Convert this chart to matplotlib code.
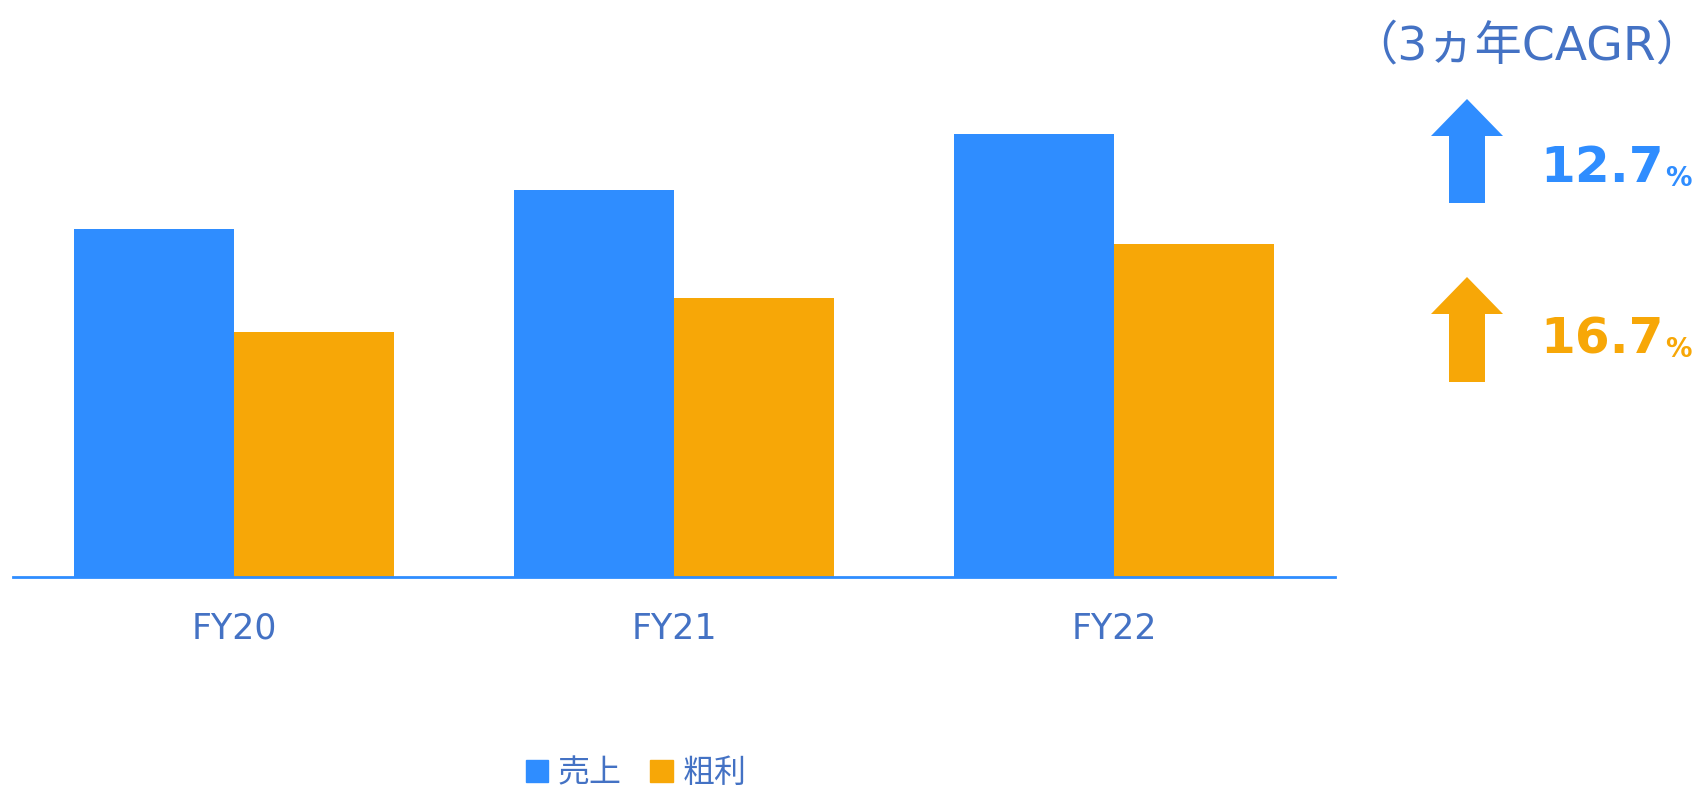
import matplotlib.pyplot as plt
from matplotlib.patches import Patch, Polygon

plt.rcParams['font.family'] = ['DejaVu Sans', 'Noto Sans CJK JP']

# data (index FY20 sales = 100)
years = ['FY20', 'FY21', 'FY22']
sales = [100, 111.2, 127.3]
gross = [70.4, 80.1, 95.7]
series_names = ['売上', '粗利']
cagr = ['12.7', '16.7']

blue = '#2F8DFF'
orange = '#F7A707'
text_col = '#4472C4'

fig = plt.figure(figsize=(17.02, 7.86), dpi=100)

# main bar chart
ax = fig.add_axes([13 / 1702, 209 / 786, 1322 / 1702, 500 / 786])
w = 0.364
x = range(len(years))
ax.bar([i - w / 2 for i in x], sales, width=w, color=blue, zorder=2)
ax.bar([i + w / 2 for i in x], gross, width=w, color=orange, zorder=2)
ax.set_xlim(-0.502, 2.502)
ax.set_ylim(0, 143.7)
ax.set_xticks(list(x))
ax.set_xticklabels(years, color=text_col, fontsize=25)
ax.tick_params(axis='x', length=0, pad=25)
ax.set_yticks([])
for s in ['top', 'right', 'left']:
    ax.spines[s].set_visible(False)
ax.spines['bottom'].set_color(blue)
ax.spines['bottom'].set_linewidth(2)
ax.spines['bottom'].set_zorder(3)

# legend
handles = [Patch(color=blue), Patch(color=orange)]
fig.legend(handles, series_names, loc='center', ncol=2, frameon=False,
           bbox_to_anchor=(636 / 1702, 1 - 773 / 786),
           prop={'family': ['Noto Sans CJK JP'], 'size': 23}, labelcolor=text_col,
           handlelength=0.7, handleheight=0.7, handletextpad=0.3,
           columnspacing=0.9)

# overlay in pixel coordinates for the CAGR panel
ov = fig.add_axes([0, 0, 1, 1])
ov.set_xlim(0, 1702)
ov.set_ylim(786, 0)
ov.axis('off')

ov.text(1527, 59, '（3ヵ年CAGR）', ha='center', va='baseline', fontsize=34,
        color=text_col)


def up_arrow(cx, tip, base, bottom, color):
    pts = [(cx, tip), (cx + 36, base), (cx + 18, base), (cx + 18, bottom),
           (cx - 18, bottom), (cx - 18, base), (cx - 36, base)]
    ov.add_patch(Polygon(pts, closed=True, color=color, lw=0))


up_arrow(1467, 99, 136, 203, blue)
up_arrow(1467, 277, 314, 382, orange)

for val, col, yb in zip(cagr, [blue, orange], [182, 353]):
    t = ov.text(1540, yb, val, ha='left', va='baseline', fontsize=36,
                fontweight='bold', color=col)
    ov.annotate('%', xy=(1, 0), xycoords=t, xytext=(1, 0),
                textcoords='offset points', ha='left', va='bottom',
                fontsize=19, fontweight='bold', color=col)

fig.savefig('out.png', dpi=100)
